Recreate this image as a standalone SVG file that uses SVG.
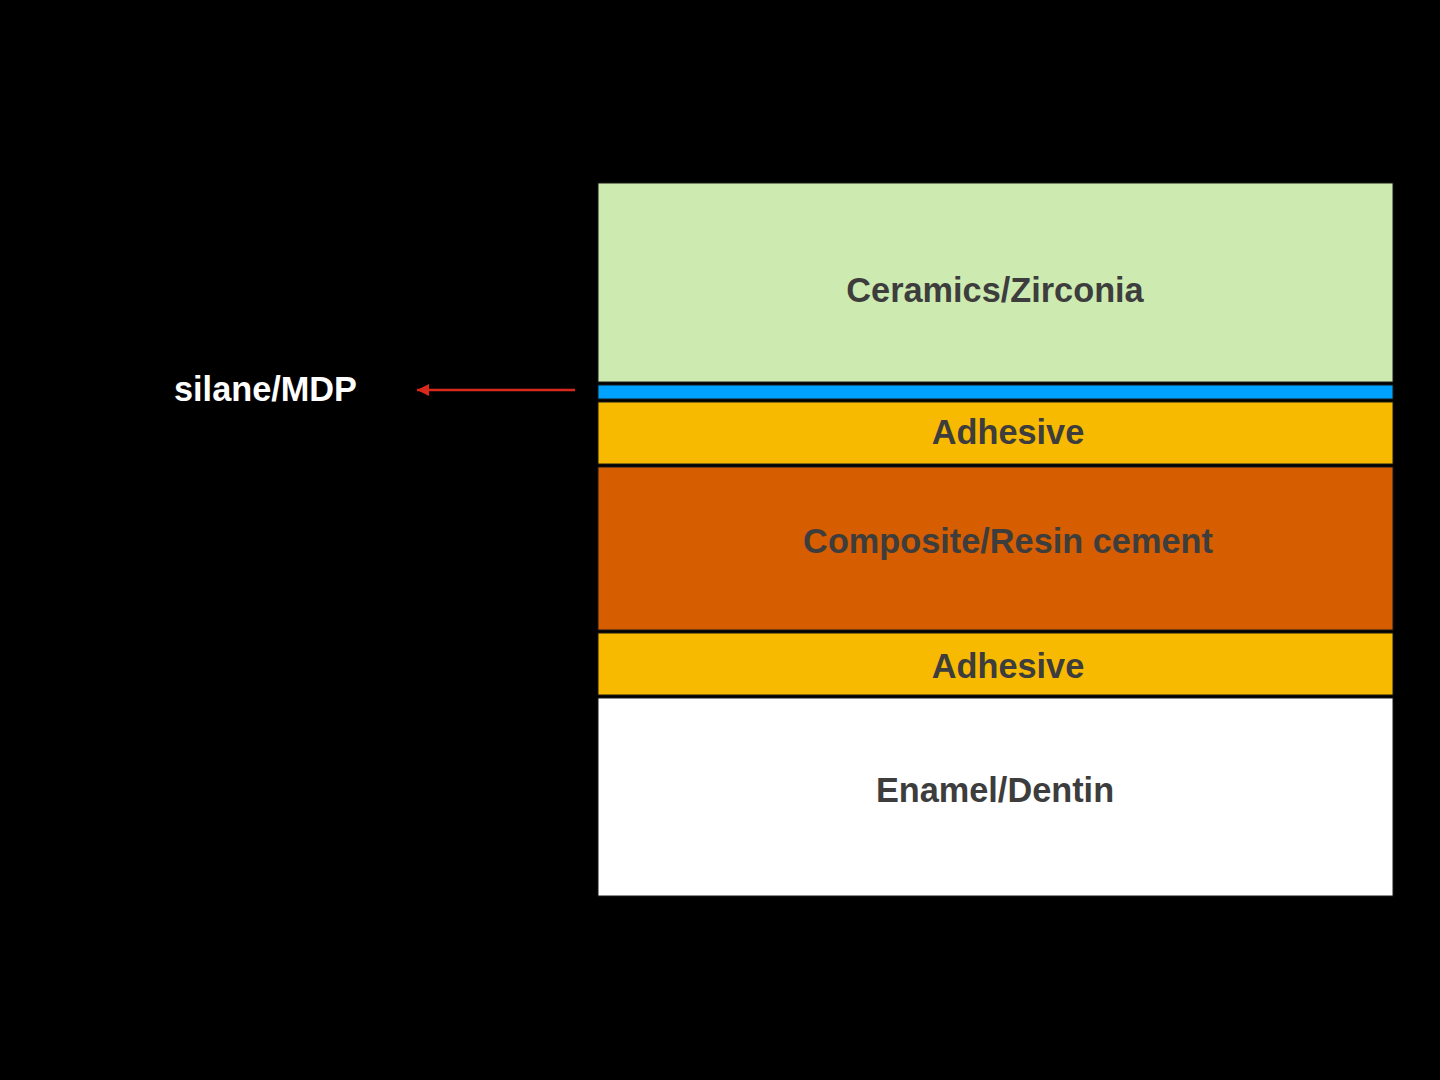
<svg xmlns="http://www.w3.org/2000/svg" width="1440" height="1080" viewBox="0 0 1440 1080">
<defs>
<style>
.layer{stroke:#1a1a1a;stroke-width:1}
.lbl{font-family:"Liberation Sans",Arial,sans-serif;font-weight:bold;font-size:34.3px;fill:#3d3d3d;text-anchor:middle}
.side{font-family:"Liberation Sans",Arial,sans-serif;font-weight:bold;font-size:34.3px;fill:#ffffff}
</style>
<marker id="ah" markerWidth="12" markerHeight="12" refX="12" refY="6" orient="auto" markerUnits="userSpaceOnUse">
<path d="M0,0 L12,6 L0,12 Z" fill="#d9291c"/>
</marker>
</defs>
<rect width="1440" height="1080" fill="#000000"/>
<g id="ceramics">
<rect class="layer" x="598" y="183" width="795" height="199" fill="#cdebb0"/>
<text class="lbl" x="995" y="302">Ceramics/Zirconia</text>
</g>
<g id="silane-layer">
<rect class="layer" x="598" y="385" width="795" height="14" fill="#00a2ff"/>
</g>
<g id="adhesive-top">
<rect class="layer" x="598" y="402" width="795" height="62" fill="#f8ba00"/>
<text class="lbl" x="1008" y="444">Adhesive</text>
</g>
<g id="composite">
<rect class="layer" x="598" y="467" width="795" height="163" fill="#d65d00"/>
<text class="lbl" x="1008" y="553">Composite/Resin cement</text>
</g>
<g id="adhesive-bottom">
<rect class="layer" x="598" y="633" width="795" height="62" fill="#f8ba00"/>
<text class="lbl" x="1008" y="678">Adhesive</text>
</g>
<g id="enamel">
<rect class="layer" x="598" y="698" width="795" height="198" fill="#ffffff"/>
<text class="lbl" x="995" y="802">Enamel/Dentin</text>
</g>
<g id="silane-label">
<text class="side" x="174" y="401">silane/MDP</text>
</g>
<g id="connectors">
<line x1="575" y1="390" x2="417" y2="390" stroke="#d9291c" stroke-width="2.5" marker-end="url(#ah)"/>
</g>
</svg>
